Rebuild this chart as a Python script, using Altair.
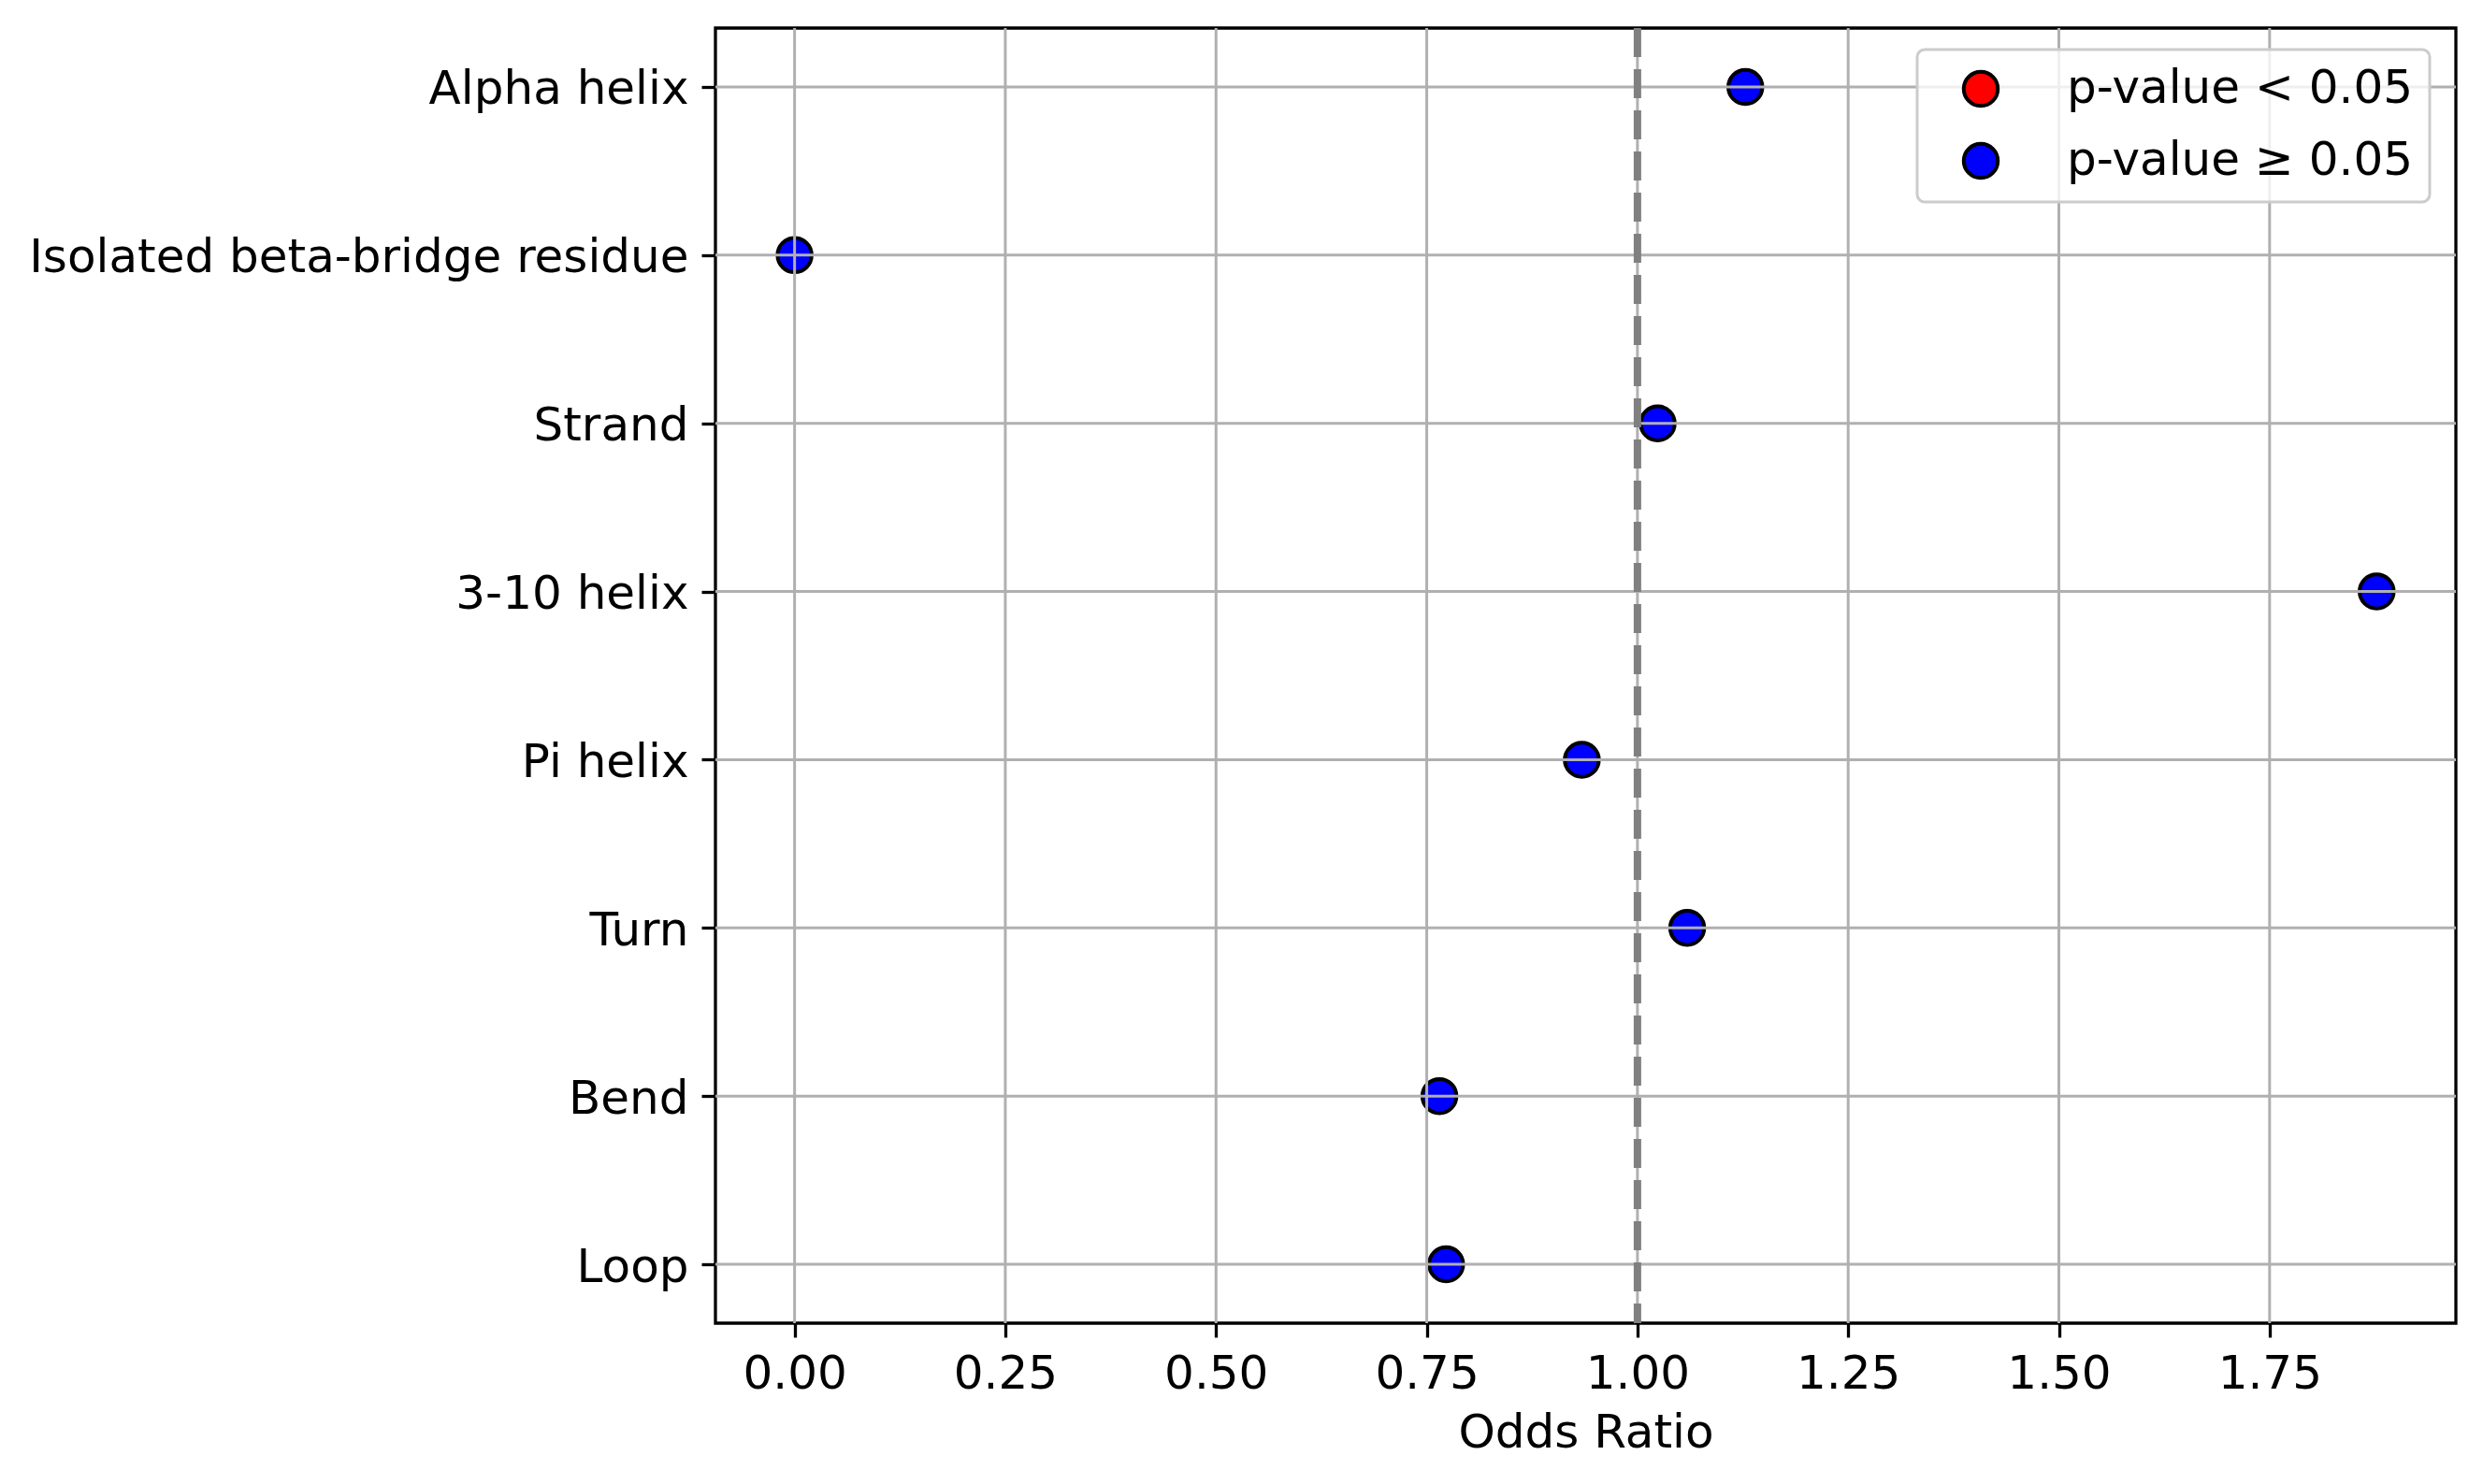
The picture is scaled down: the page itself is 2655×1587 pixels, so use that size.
import altair as alt
import pandas as pd

# ---- data ----
categories = ["Alpha helix", "Isolated beta-bridge residue", "Strand", "3-10 helix",
              "Pi helix", "Turn", "Bend", "Loop"]
odds_ratios = [1.128, 0.0, 1.024, 1.877, 0.934, 1.059, 0.765, 0.773]
significance = ["p-value ≥ 0.05"] * 8
legend_labels = ["p-value < 0.05", "p-value ≥ 0.05"]
legend_colors = ["red", "blue"]
x_ticks = [0.0, 0.25, 0.5, 0.75, 1.0, 1.25, 1.5, 1.75]
reference_value = [1.0]
x_domain = [-0.0939, 1.971]

df = pd.DataFrame({"Feature": categories, "OddsRatio": odds_ratios, "Significance": significance})
grid_x = pd.DataFrame({"OddsRatio": x_ticks})
grid_y = pd.DataFrame({"Feature": categories})
ref = pd.DataFrame({"OddsRatio": reference_value})

FONT = "DejaVu Sans"
FS = 50
W, H = 1861, 1385

xscale = alt.Scale(domain=x_domain, nice=False, zero=False)
yscale = alt.Scale(type="point", domain=categories, padding=0.35)

x_axis = alt.Axis(values=x_ticks, format=".2f", grid=False, domain=False,
                  labelFontSize=FS, labelFont=FONT, labelColor="black",
                  tickSize=15, tickWidth=3.3, tickColor="black", labelPadding=14,
                  titleFontSize=FS, titleFont=FONT, titleFontWeight="normal",
                  titleColor="black", titlePadding=13)
y_axis = alt.Axis(grid=False, domain=False, labelFontSize=FS, labelFont=FONT,
                  labelColor="black", labelLimit=2000, tickSize=15, tickWidth=3.3,
                  tickColor="black", labelPadding=14, labelOffset=3)

X = alt.X("OddsRatio:Q", scale=xscale, title="Odds Ratio", axis=x_axis)
Y = alt.Y("Feature:N", scale=yscale, sort=categories, title=None, axis=y_axis)

points = alt.Chart(df).mark_circle(
    size=1330, opacity=1, stroke="black", strokeWidth=4
).encode(
    x=X,
    y=Y,
    color=alt.Color("Significance:N",
                    scale=alt.Scale(domain=legend_labels, range=legend_colors),
                    legend=alt.Legend(title=None, orient="none", legendX=1285, legendY=23,
                                      labelFontSize=FS, labelFont=FONT, labelColor="black",
                                      labelLimit=2000,
                                      symbolType="circle", symbolSize=1330,
                                      symbolStrokeWidth=4, symbolStrokeColor="black",
                                      symbolOpacity=1, symbolOffset=26, labelOffset=67,
                                      padding=17, rowPadding=23, cornerRadius=8,
                                      strokeColor="#cccccc",
                                      fillColor="rgba(255,255,255,0.8)")),
)

xgrid = alt.Chart(grid_x).mark_rule(color="#b0b0b0", strokeWidth=3).encode(x=X)
ygrid = alt.Chart(grid_y).mark_rule(color="#b0b0b0", strokeWidth=3).encode(y=Y)
refline = alt.Chart(ref).mark_rule(color="#808080", strokeWidth=8, strokeDash=[31, 13]).encode(x=X)

chart = alt.layer(points, xgrid, ygrid, refline).properties(
    width=W, height=H,
    padding={"left": 757, "top": 22, "right": 20, "bottom": 150},
    autosize=alt.AutoSizeParams(type="none"),
    background="white",
).configure_view(
    stroke="black", strokeWidth=3.3
).configure_legend(
    strokeWidth=3
)

chart.save("out.html", embed_options={"renderer": "svg", "actions": False})
